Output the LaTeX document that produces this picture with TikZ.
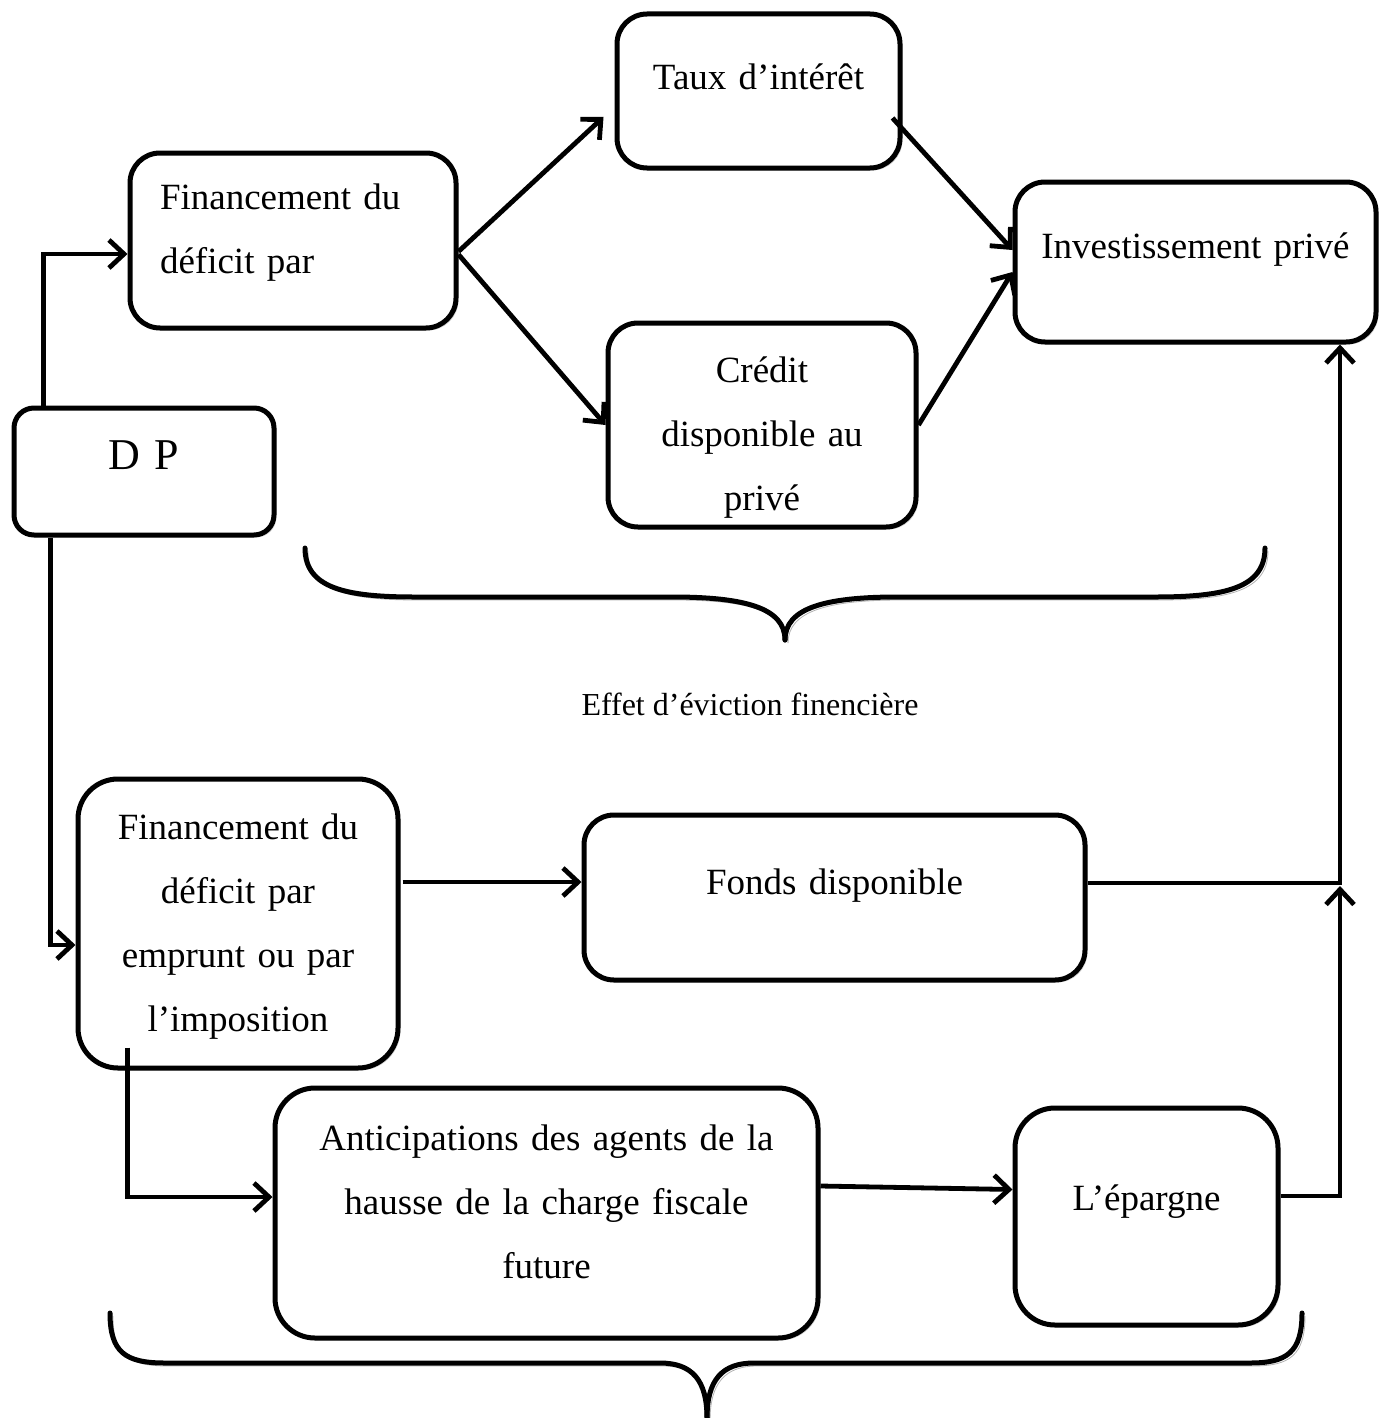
\documentclass[tikz,border=0pt]{standalone}
\usepackage{fontspec}
\setmainfont{Liberation Serif}
\usetikzlibrary{arrows.meta,shadows}

\begin{document}
\begin{tikzpicture}[x=0.5pt,y=-0.5pt,
    boite/.style={rectangle, draw, line width=2.5pt, rounded corners=15pt, fill=white,
      inner sep=0pt, align=center, font=\fontsize{18.5pt}{32pt}\selectfont,
      drop shadow={shadow xshift=1.2pt, shadow yshift=-1.2pt, opacity=0.35}},
    fleche/.style={line width=2.4pt, -{Straight Barb[length=7.5pt,width=14pt]}},
    accolade/.style={line width=2.5pt, line cap=round,
      preaction={draw=gray!60, transform canvas={shift={(1.5pt,-1.5pt)}}}}
    ]
    \useasboundingbox (0,0) rectangle (1379,1418);

    % cases du haut
    \node[boite, text width=141.5pt, text height=38pt, text depth=39pt] (taux) at (758.5,91) {Taux d’intérêt};
    \node[boite, align=left, inner xsep=15pt, text width=133pt, text height=28pt, text depth=59.5pt] (fin1) at (293,240.5) {Financement du\\déficit par};
    \node[boite, text width=180.5pt, text height=38pt, text depth=42pt] (invest) at (1195.5,262) {Investissement privé};
    \node[boite, text width=154pt, text height=29.5pt, text depth=72.5pt] (credit) at (762,425) {Crédit\\disponible au\\privé};
    \node[boite, rounded corners=10pt, font=\fontsize{22pt}{26pt}\selectfont, text width=130pt, text height=30.5pt, text depth=33pt] (dp) at (144,471.5) {D P};

    % cases du bas
    \node[boite, rounded corners=20pt, text width=160pt, text height=30pt, text depth=114.5pt] (fin2) at (238,923.5) {Financement du\\déficit par\\emprunt ou par\\l’imposition};
    \node[boite, text width=250.5pt, text height=39.5pt, text depth=43pt] (fonds) at (834.5,897.5) {Fonds disponible};
    \node[boite, rounded corners=20pt, text width=271.5pt, text height=31pt, text depth=94pt] (antic) at (546.5,1213) {Anticipations des agents de la\\hausse de la charge fiscale\\future};
    \node[boite, rounded corners=20pt, text width=131.5pt, text height=51pt, text depth=57.5pt] (epargne) at (1146.5,1216.5) {L’épargne};

    \node[font=\fontsize{16pt}{19pt}\selectfont] (effet) at (750,704) {Effet d’éviction finencière};

    % fleches
    \draw[fleche] ([xshift=16pt]dp.north west) |- ([yshift=-6.75pt]fin1.west);
    \draw[fleche] ([xshift=19.5pt]dp.south west) |- ([yshift=-10.75pt]fin2.west);
    \draw[fleche] ([yshift=-5.5pt]fin1.east) -- ([xshift=-5.5pt,yshift=-13pt]taux.west);
    \draw[fleche] ([yshift=-7pt]fin1.east) -- (credit.west);
    \draw[fleche] ([xshift=-5pt,yshift=-13.5pt]taux.east) -- ([yshift=6pt]invest.west);
    \draw[fleche] (credit.east) -- ([yshift=-5pt]invest.west);
    \coordinate (jonc) at (1340,883);
    \draw[fleche] ([yshift=7.25pt]fonds.east) -- (jonc) -- (jonc |- invest.south);
    \draw[fleche] ([yshift=10.25pt]epargne.east) -| ([yshift=-1.5pt]jonc);
    \draw[fleche] ([xshift=1pt,yshift=20.75pt]fin2.east) -- ([yshift=7.75pt]fonds.west);
    \draw[fleche] ([xshift=26pt,yshift=11.5pt]fin2.south west) |- ([yshift=8pt]antic.west);
    \draw[fleche] ([yshift=13.5pt]antic.east) -- ([yshift=13.5pt]epargne.west);

    % accolades
    \draw[accolade] (305,548) .. controls (305,588) and (345,597) .. (415,597) -- (672,597)
      .. controls (745,597) and (785,608) .. (785,640);
    \draw[accolade] (1265,548) .. controls (1265,588) and (1225,597) .. (1155,597) -- (898,597)
      .. controls (825,597) and (785,608) .. (785,640);
    \draw[accolade] (110,1313) .. controls (110,1352) and (125,1363) .. (165,1363) -- (660,1363)
      .. controls (692,1363) and (707,1380) .. (707,1418);
    \draw[accolade] (1302,1313) .. controls (1302,1352) and (1287,1363) .. (1250,1363) -- (754,1363)
      .. controls (722,1363) and (707,1380) .. (707,1418);
\end{tikzpicture}
\end{document}
